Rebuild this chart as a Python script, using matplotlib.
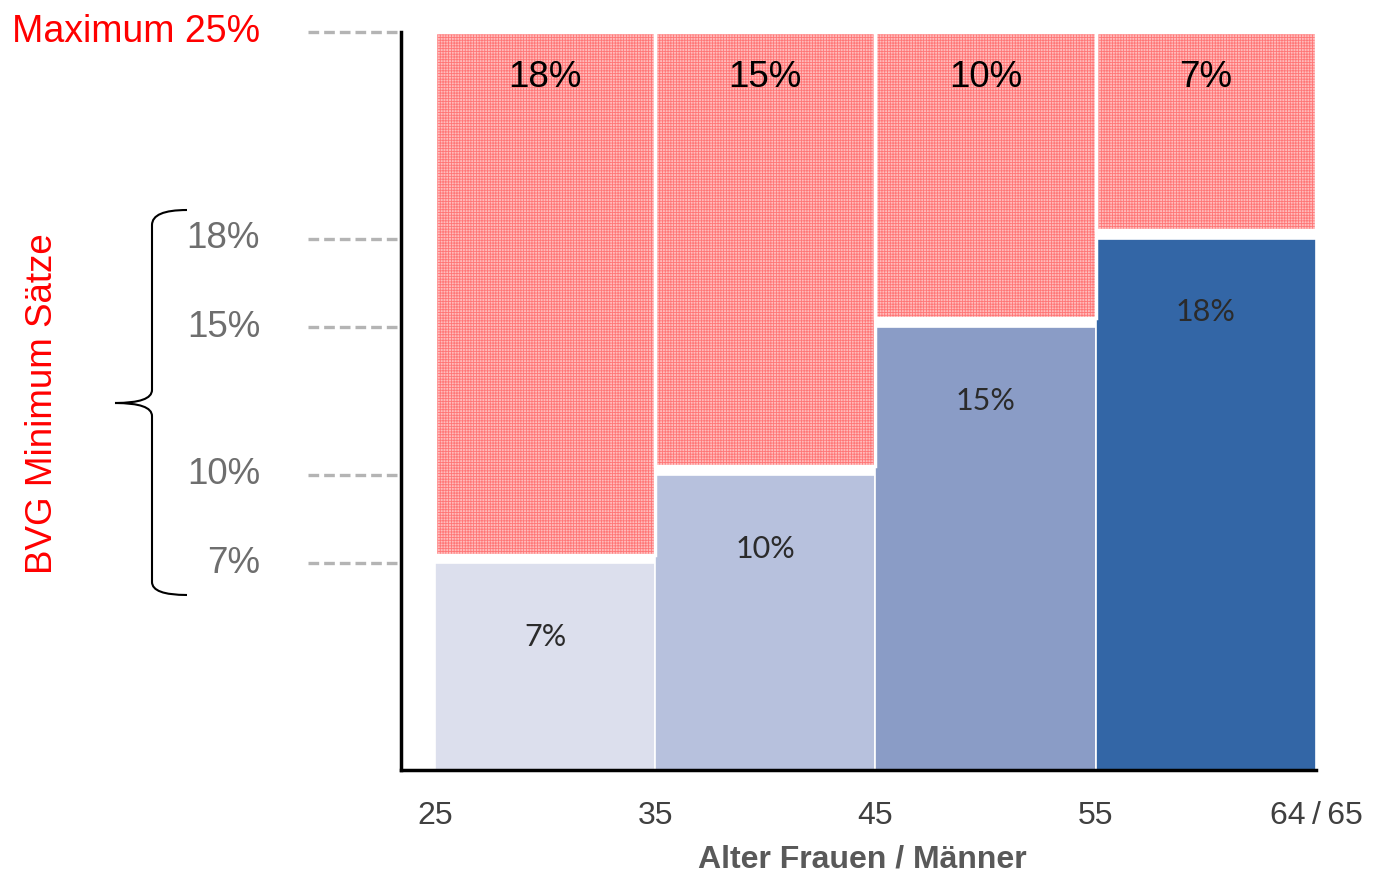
import matplotlib
matplotlib.use("Agg")
import matplotlib.pyplot as plt
from matplotlib.path import Path
from matplotlib.patches import PathPatch
from matplotlib.transforms import blended_transform_factory, Affine2D

# age band edges and tick labels
age_edges = [25, 35, 45, 55, 65]
age_labels = ["25", "35", "45", "55", "64\u2009/\u200965"]

# BVG minimum contribution rates per band and the overall maximum
min_rates = [7, 10, 15, 18]
max_rate = 25
extra_rates = [max_rate - r for r in min_rates]

band_colors = ["#dcdfed", "#b7c1dd", "#8a9cc6", "#3366a6"]
pink_face = "#ffbcbc"
pink_hatch = "#ff7676"

plt.rcParams["hatch.linewidth"] = 0.6

W, H = 1374, 876
fig = plt.figure(figsize=(W / 100, H / 100), dpi=100)
ax = fig.add_axes([401 / W, 1 - 770 / H, (1316 - 401) / W, (770 - 32) / H])

for i, rate in enumerate(min_rates):
    left = age_edges[i]
    width = age_edges[i + 1] - age_edges[i]
    ax.bar(left, rate, width=width, align="edge", color=band_colors[i],
           edgecolor="white", linewidth=1.2, zorder=2)
    # remaining room up to the maximum, hatched in pink
    gap = 0.3
    ax.bar(left, max_rate - rate - gap, bottom=rate + gap, width=width, align="edge",
           color=pink_face, edgecolor=pink_hatch, linewidth=0, hatch="++++++", zorder=2)
    ax.bar(left, max_rate - rate - gap, bottom=rate + gap, width=width, align="edge",
           fill=False, edgecolor="white", linewidth=2.5, zorder=3)
    mid = left + width / 2
    ax.text(mid, rate - 2.5, f"{rate}%", ha="center", va="center", fontsize=22,
            color="#2b2b2b", family=["Lato", "DejaVu Sans"], zorder=4)
    ax.text(mid, 23.45, f"{extra_rates[i]}%", ha="center", va="center", fontsize=26.5,
            color="black", family=["Liberation Sans", "DejaVu Sans"], zorder=4)

ax.set_xlim(23.46, 65)
ax.set_ylim(0, max_rate)
for side in ["top", "right"]:
    ax.spines[side].set_visible(False)
for side in ["left", "bottom"]:
    ax.spines[side].set_linewidth(2.5)
    ax.spines[side].set_color("black")
ax.set_yticks([])
ax.set_xticks(age_edges)
ax.set_xticklabels(age_labels, fontsize=23, color="#404040",
                   family=["Liberation Sans Narrow", "Liberation Sans", "DejaVu Sans"])
ax.tick_params(axis="x", length=0, pad=22)

# dashed guide lines and rate labels left of the axis
trans = blended_transform_factory(fig.transFigure, ax.transData)
for level in [max_rate] + min_rates:
    ax.plot([308 / W, 401 / W], [level, level], transform=trans, clip_on=False,
            color="#b4b4b4", linewidth=2.4, linestyle=(0, (3.2, 1.5)))
    if level == max_rate:
        ax.text(260 / W, level, f"Maximum {level}%", transform=trans, ha="right",
                va="center", fontsize=27, color="#ff0000",
                family=["Liberation Sans", "DejaVu Sans"])
    else:
        ax.text(260 / W, level, f"{level}%", transform=trans, ha="right",
                va="center", fontsize=26.5, color="#6e6e6e",
                family=["Liberation Sans", "DejaVu Sans"])

# curly brace grouping the minimum rates
px = Affine2D().scale(1 / W, -1 / H).translate(0, 1) + fig.transFigure
verts = [(187, 210), (152, 210), (152, 225),
         (152, 390),
         (152, 403), (115, 403),
         (152, 403), (152, 416),
         (152, 582),
         (152, 595), (187, 595)]
codes = [Path.MOVETO, Path.CURVE3, Path.CURVE3,
         Path.LINETO,
         Path.CURVE3, Path.CURVE3,
         Path.CURVE3, Path.CURVE3,
         Path.LINETO,
         Path.CURVE3, Path.CURVE3]
fig.patches.append(PathPatch(Path(verts, codes), transform=px, fill=False,
                             edgecolor="black", linewidth=1.5))

fig.text(43 / W, 1 - 404 / H, "BVG Minimum Sätze", rotation=90, ha="center",
         va="center", fontsize=26.5, color="#ff0000",
         family=["Liberation Sans", "DejaVu Sans"])
fig.text(862 / W, 1 - 860 / H, "Alter Frauen / Männer", ha="center", va="center",
         fontsize=23, fontweight="bold", color="#595959",
         family=["Liberation Sans Narrow", "Liberation Sans"])

fig.savefig("out.png", dpi=100)
